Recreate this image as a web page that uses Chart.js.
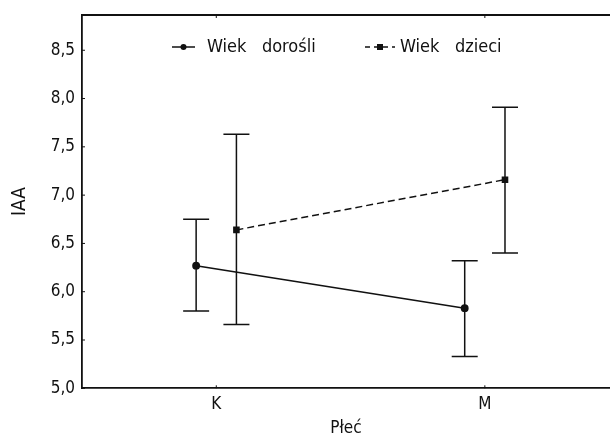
<!DOCTYPE html>
<html>
<head>
<meta charset="utf-8">
<script src="https://cdn.jsdelivr.net/npm/chart.js@4"></script>
<style>
  body { margin: 0; background: #fff; }
  #wrap { width: 610px; height: 439px; }
</style>
</head>
<body>
<div id="wrap"><canvas id="chart"></canvas></div>
<script>
const categories = ['K', 'M'];
const adultMean = [6.27, 5.83];
const adultLow = [5.80, 5.33];
const adultHigh = [6.75, 6.32];
const childMean = [6.64, 7.16];
const childLow = [5.66, 6.40];
const childHigh = [7.63, 7.91];
const yTicks = [5.0, 5.5, 6.0, 6.5, 7.0, 7.5, 8.0, 8.5];

const FONT = "'Liberation Sans Narrow', 'DejaVu Sans Condensed', sans-serif";
const DODGE = 0.075;

function points(values, shift) {
    return values.map((v, i) => ({ x: i + 1 + shift, y: v }));
}

const errorBars = {
    id: 'errorBars',
    beforeDatasetsDraw(chart) {
        const ctx = chart.ctx;
        const xs = chart.scales.x, ys = chart.scales.y;
        ctx.save();
        ctx.strokeStyle = '#111';
        ctx.lineWidth = 1.5;
        chart.data.datasets.forEach(ds => {
            ds.data.forEach((p, i) => {
                const x = xs.getPixelForValue(p.x);
                const lo = ys.getPixelForValue(ds.low[i]);
                const hi = ys.getPixelForValue(ds.high[i]);
                ctx.beginPath();
                ctx.moveTo(x, lo); ctx.lineTo(x, hi);
                ctx.moveTo(x - 13, lo); ctx.lineTo(x + 13, lo);
                ctx.moveTo(x - 13, hi); ctx.lineTo(x + 13, hi);
                ctx.stroke();
            });
        });
        ctx.restore();
    }
};

const frame = {
    id: 'frame',
    afterDraw(chart) {
        const ctx = chart.ctx;
        const a = chart.chartArea;
        const xs = chart.scales.x, ys = chart.scales.y;
        ctx.save();
        ctx.strokeStyle = '#111';
        ctx.lineWidth = 1.8;
        ctx.beginPath();
        ctx.moveTo(a.left, a.top); ctx.lineTo(a.right, a.top);
        ctx.stroke();
        // small inside tick marks
        ctx.lineWidth = 1;
        categories.forEach((c, i) => {
            const x = xs.getPixelForValue(i + 1);
            ctx.beginPath();
            ctx.moveTo(x, a.top); ctx.lineTo(x, a.top + 3);
            ctx.moveTo(x, a.bottom); ctx.lineTo(x, a.bottom - 3);
            ctx.stroke();
        });
        yTicks.forEach(v => {
            const y = ys.getPixelForValue(v);
            ctx.beginPath();
            ctx.moveTo(a.left, y); ctx.lineTo(a.left + 3, y);
            ctx.stroke();
        });

        // legend
        ctx.font = '18px ' + FONT;
        ctx.fillStyle = '#111';
        ctx.textBaseline = 'middle';
        const ly = 47;
        ctx.lineWidth = 1.5;
        ctx.beginPath();
        ctx.moveTo(172, ly); ctx.lineTo(195, ly);
        ctx.stroke();
        ctx.beginPath();
        ctx.arc(183.5, ly, 3, 0, Math.PI * 2);
        ctx.fill();
        ctx.fillText(chart.data.datasets[0].label, 207, ly);

        ctx.setLineDash([5, 4]);
        ctx.beginPath();
        ctx.moveTo(365, ly); ctx.lineTo(395, ly);
        ctx.stroke();
        ctx.setLineDash([]);
        ctx.fillRect(377, ly - 3, 6, 6);
        ctx.fillText(chart.data.datasets[1].label, 400, ly);
        ctx.restore();
    }
};

new Chart(document.getElementById('chart'), {
    type: 'line',
    data: {
        datasets: [{
            label: 'Wiek   dorośli',
            data: points(adultMean, -DODGE),
            low: adultLow,
            high: adultHigh,
            borderColor: '#111',
            backgroundColor: '#111',
            borderWidth: 1.5,
            pointStyle: 'circle',
            pointRadius: 3.2,
            pointHoverRadius: 3.2
        }, {
            label: 'Wiek   dzieci',
            data: points(childMean, DODGE),
            low: childLow,
            high: childHigh,
            borderColor: '#111',
            backgroundColor: '#111',
            borderWidth: 1.5,
            borderDash: [7, 4],
            pointStyle: 'rect',
            pointRadius: 3.6,
            pointHoverRadius: 3.6
        }]
    },
    options: {
        responsive: true,
        maintainAspectRatio: false,
        animation: false,
        layout: { autoPadding: false, padding: { top: 15, right: 0, left: 0, bottom: 0 } },
        plugins: {
            legend: { display: false },
            tooltip: { enabled: false }
        },
        scales: {
            x: {
                type: 'linear',
                min: 0.5,
                max: 2.466,
                afterBuildTicks(s) { s.ticks = categories.map((c, i) => ({ value: i + 1 })); },
                afterFit(s) { s.height = 50.7; s.paddingLeft = 0; s.paddingRight = 0; },
                ticks: {
                    color: '#111',
                    font: { family: FONT, size: 17 },
                    padding: 3,
                    callback: v => categories[v - 1]
                },
                grid: { drawOnChartArea: false, tickLength: 3, color: 'rgba(0,0,0,0)' },
                border: { color: '#111', width: 1.8 },
                title: {
                    display: true,
                    text: 'Płeć',
                    color: '#111',
                    font: { family: FONT, size: 17 },
                    padding: 0
                }
            },
            y: {
                min: 5,
                max: 8.865,
                afterBuildTicks(s) { s.ticks = yTicks.map(v => ({ value: v })); },
                afterFit(s) { s.width = 82; },
                ticks: {
                    color: '#111',
                    font: { family: FONT, size: 17 },
                    padding: 4,
                    callback: v => v.toFixed(1).replace('.', ',')
                },
                grid: { drawOnChartArea: false, tickLength: 3, color: 'rgba(0,0,0,0)' },
                border: { color: '#111', width: 1.8 },
                title: {
                    display: true,
                    text: 'IAA',
                    color: '#111',
                    font: { family: FONT, size: 19 },
                    padding: { top: 9, bottom: 0 }
                }
            }
        }
    },
    plugins: [errorBars, frame]
});
</script>
</body>
</html>
